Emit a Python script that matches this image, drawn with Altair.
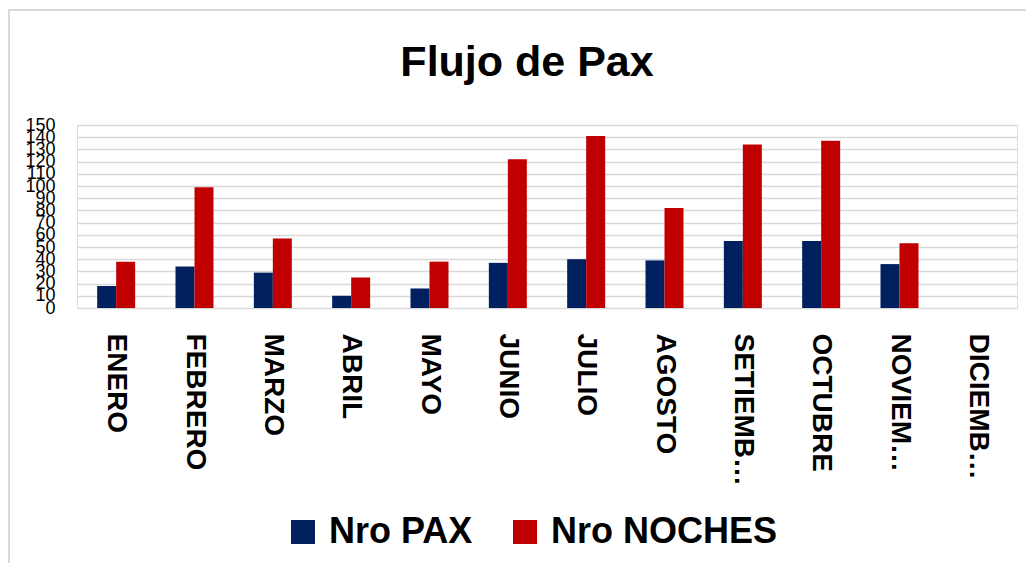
import altair as alt
import pandas as pd

months = ["ENERO", "FEBRERO", "MARZO", "ABRIL", "MAYO", "JUNIO", "JULIO",
          "AGOSTO", "SETIEMBRE", "OCTUBRE", "NOVIEMBRE", "DICIEMBRE"]
short_labels = ["ENERO", "FEBRERO", "MARZO", "ABRIL", "MAYO", "JUNIO", "JULIO",
                "AGOSTO", "SETIEMB…", "OCTUBRE", "NOVIEM…", "DICIEMB…"]
pax = [18, 34, 29, 10, 16, 37, 40, 39, 55, 55, 36, None]
noches = [38, 99, 57, 25, 38, 122, 141, 82, 134, 137, 53, None]
series = ["Nro PAX", "Nro NOCHES"]
colors = ["#002060", "#C00000"]
y_ticks = list(range(0, 160, 10))

rows = []
for m, p, n in zip(months, pax, noches):
    if p is not None:
        rows.append({"mes": m, "serie": series[0], "valor": p})
    if n is not None:
        rows.append({"mes": m, "serie": series[1], "valor": n})
df = pd.DataFrame(rows)

mapping = " : ".join(
    f"datum.label == '{m}' ? '{s}'" for m, s in zip(months, short_labels)
) + " : datum.label"

FONT = "Liberation Sans"

bars = alt.Chart(df).mark_bar().encode(
    x=alt.X("mes:N", sort=months,
            scale=alt.Scale(domain=months, paddingInner=0.515, paddingOuter=0.2575),
            axis=alt.Axis(title=None, domain=False, ticks=False, grid=False,
                          labelAngle=90, labelFontSize=28, labelFontWeight="bold",
                          labelColor="black", labelPadding=25, labelFont=FONT,
                          labelExpr=mapping, labelLimit=400)),
    xOffset=alt.XOffset("serie:N", sort=series, scale=alt.Scale(domain=series)),
    y=alt.Y("valor:Q", scale=alt.Scale(domain=[0, 150], nice=False),
            axis=alt.Axis(title=None, values=y_ticks, domain=False, ticks=False,
                          labelFontSize=18, labelColor="black", labelPadding=22,
                          labelOverlap=False, labelFlush=False, labelFont=FONT,
                          grid=True, gridColor="#d9d9d9", gridWidth=1.5)),
    color=alt.Color("serie:N", sort=series,
                    scale=alt.Scale(domain=series, range=colors),
                    legend=alt.Legend(title=None, orient="none", legendX=208, legendY=389,
                                      direction="horizontal", symbolType="square",
                                      symbolSize=576, symbolStrokeWidth=0,
                                      labelFontSize=36, labelFontWeight="bold",
                                      labelColor="black", labelFont=FONT,
                                      labelOffset=8, columnPadding=34, labelLimit=400)),
)

border_top = alt.Chart(df).mark_rule(color="#d9d9d9", strokeWidth=2).encode(
    x=alt.value(-69), x2=alt.value(960), y=alt.value(-115)
)
border_left = alt.Chart(df).mark_rule(color="#d9d9d9", strokeWidth=2).encode(
    x=alt.value(-68), y=alt.value(-115), y2=alt.value(440)
)

chart = alt.layer(border_top, border_left, bars).properties(
    width=940, height=183,
    autosize=alt.AutoSizeParams(type="none"),
    padding={"left": 69, "top": 117, "right": 9, "bottom": 255},
    title=alt.TitleParams("Flujo de Pax", fontSize=43, fontWeight="bold", font=FONT,
                          color="black", anchor="middle", frame="group",
                          baseline="alphabetic", offset=0, dy=110, dx=-20),
).configure_view(strokeWidth=0).configure(font=FONT)

chart.save("out.html", embed_options={"renderer": "svg", "actions": False})
